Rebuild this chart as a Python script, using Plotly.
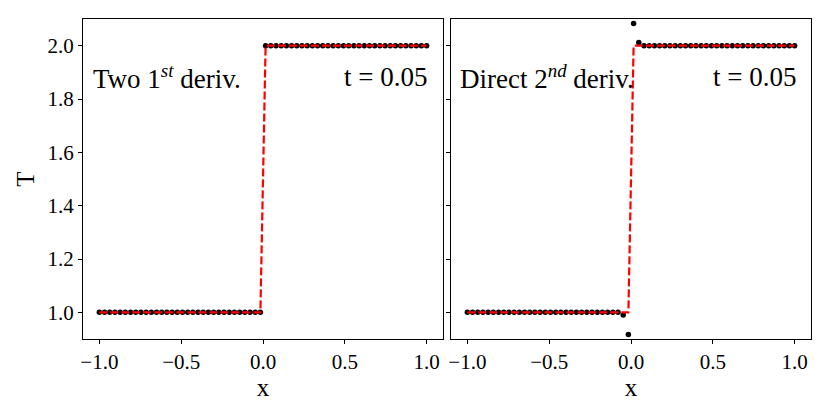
import plotly.graph_objects as go

# grid points (64 evenly spaced nodes on [-1, 1])
x = [-1.0000, -0.9683, -0.9365, -0.9048, -0.8730, -0.8413, -0.8095, -0.7778,
     -0.7460, -0.7143, -0.6825, -0.6508, -0.6190, -0.5873, -0.5556, -0.5238,
     -0.4921, -0.4603, -0.4286, -0.3968, -0.3651, -0.3333, -0.3016, -0.2698,
     -0.2381, -0.2063, -0.1746, -0.1429, -0.1111, -0.0794, -0.0476, -0.0159,
     0.0159, 0.0476, 0.0794, 0.1111, 0.1429, 0.1746, 0.2063, 0.2381,
     0.2698, 0.3016, 0.3333, 0.3651, 0.3968, 0.4286, 0.4603, 0.4921,
     0.5238, 0.5556, 0.5873, 0.6190, 0.6508, 0.6825, 0.7143, 0.7460,
     0.7778, 0.8095, 0.8413, 0.8730, 0.9048, 0.9365, 0.9683, 1.0000]

# exact solution (red dashed)
T_exact = [1.0, 1.0, 1.0, 1.0, 1.0, 1.0, 1.0, 1.0,
           1.0, 1.0, 1.0, 1.0, 1.0, 1.0, 1.0, 1.0,
           1.0, 1.0, 1.0, 1.0, 1.0, 1.0, 1.0, 1.0,
           1.0, 1.0, 1.0, 1.0, 1.0, 1.0, 1.0, 1.0,
           2.0, 2.0, 2.0, 2.0, 2.0, 2.0, 2.0, 2.0,
           2.0, 2.0, 2.0, 2.0, 2.0, 2.0, 2.0, 2.0,
           2.0, 2.0, 2.0, 2.0, 2.0, 2.0, 2.0, 2.0,
           2.0, 2.0, 2.0, 2.0, 2.0, 2.0, 2.0, 2.0]

# numerical solution, two first derivatives (left panel)
T_two_first = [1.0, 1.0, 1.0, 1.0, 1.0, 1.0, 1.0, 1.0,
               1.0, 1.0, 1.0, 1.0, 1.0, 1.0, 1.0, 1.0,
               1.0, 1.0, 1.0, 1.0, 1.0, 1.0, 1.0, 1.0,
               1.0, 1.0, 1.0, 1.0, 1.0, 1.0, 1.0, 1.0,
               2.0, 2.0, 2.0, 2.0, 2.0, 2.0, 2.0, 2.0,
               2.0, 2.0, 2.0, 2.0, 2.0, 2.0, 2.0, 2.0,
               2.0, 2.0, 2.0, 2.0, 2.0, 2.0, 2.0, 2.0,
               2.0, 2.0, 2.0, 2.0, 2.0, 2.0, 2.0, 2.0]

# numerical solution, direct second derivative (right panel)
T_direct_second = [1.0, 1.0, 1.0, 1.0, 1.0, 1.0, 1.0, 1.0,
                   1.0, 1.0, 1.0, 1.0, 1.0, 1.0, 1.0, 1.0,
                   1.0, 1.0, 1.0, 1.0, 1.0, 1.0, 1.0, 1.0,
                   1.0, 1.0, 1.0, 1.0, 1.0, 1.0, 0.990, 0.917,
                   2.083, 2.012, 2.0, 2.0, 2.0, 2.0, 2.0, 2.0,
                   2.0, 2.0, 2.0, 2.0, 2.0, 2.0, 2.0, 2.0,
                   2.0, 2.0, 2.0, 2.0, 2.0, 2.0, 2.0, 2.0,
                   2.0, 2.0, 2.0, 2.0, 2.0, 2.0, 2.0, 2.0]

x_ticks = [-1.0, -0.5, 0.0, 0.5, 1.0]
x_tick_text = ["\u22121.0", "\u22120.5", "0.0", "0.5", "1.0"]
y_ticks = [1.0, 1.2, 1.4, 1.6, 1.8, 2.0]
y_tick_text = ["1.0", "1.2", "1.4", "1.6", "1.8", "2.0"]

FONT = "Liberation Serif"
W, H = 830, 415
OFF = 8  # page body margin offset
ML, MT = 83 - OFF, 19 - OFF
PW, PH = 728, 320
MR = W - ML - PW
MB = H - MT - PH
d1 = [0.0, 360 / PW]
d2 = [368 / PW, 1.0]

fig = go.Figure()
for xa, ya, T in [("x", "y", T_two_first), ("x2", "y2", T_direct_second)]:
    fig.add_trace(go.Scatter(x=x, y=T, mode="markers", xaxis=xa, yaxis=ya,
                             marker=dict(color="black", size=5.5),
                             showlegend=False))
    fig.add_trace(go.Scatter(x=x, y=T_exact, mode="lines", xaxis=xa, yaxis=ya,
                             line=dict(color="#ff0000", width=2.2, dash="8px,3px"),
                             showlegend=False))

ax_common = dict(range=[-1.1, 1.1], tickvals=x_ticks, ticktext=x_tick_text,
                 ticks="outside", ticklen=4, tickwidth=1, tickcolor="black",
                 showline=True, linecolor="black", linewidth=1, mirror=True,
                 showgrid=False, zeroline=False,
                 tickfont=dict(family=FONT, size=21, color="black"),
                 title=dict(text="x", font=dict(family=FONT, size=25, color="black"),
                            standoff=1))
ay_common = dict(range=[0.9, 2.1], tickvals=y_ticks, ticktext=y_tick_text,
                 ticks="outside", ticklen=4, tickwidth=1, tickcolor="black",
                 showline=True, linecolor="black", linewidth=1, mirror=True,
                 showgrid=False, zeroline=False,
                 tickfont=dict(family=FONT, size=21, color="black"))

fig.update_layout(
    width=W, height=H,
    margin=dict(l=ML, r=MR, t=MT, b=MB, autoexpand=False),
    paper_bgcolor="white", plot_bgcolor="white",
    xaxis=dict(domain=d1, anchor="y", **ax_common),
    xaxis2=dict(domain=d2, anchor="y2", **ax_common),
    yaxis=dict(anchor="x", title=dict(text="T", font=dict(family=FONT, size=25, color="black"),
                                      standoff=5), **ay_common),
    yaxis2=dict(anchor="x2", showticklabels=False, **ay_common),
)

ann_font = dict(family=FONT, size=27, color="black")
fig.add_annotation(text="Two 1<sup><i>st</i></sup> deriv.", xref="x domain", yref="y domain",
                   x=0.022, y=0.82, xanchor="left", yanchor="middle",
                   showarrow=False, font=ann_font)
fig.add_annotation(text="t = 0.05", xref="x domain", yref="y domain",
                   x=0.962, y=0.82, xanchor="right", yanchor="middle",
                   showarrow=False, font=ann_font)
fig.add_annotation(text="Direct 2<sup><i>nd</i></sup> deriv.", xref="x2 domain", yref="y2 domain",
                   x=0.019, y=0.82, xanchor="left", yanchor="middle",
                   showarrow=False, font=ann_font)
fig.add_annotation(text="t = 0.05", xref="x2 domain", yref="y2 domain",
                   x=0.965, y=0.82, xanchor="right", yanchor="middle",
                   showarrow=False, font=ann_font)

fig.write_html("out.html")
